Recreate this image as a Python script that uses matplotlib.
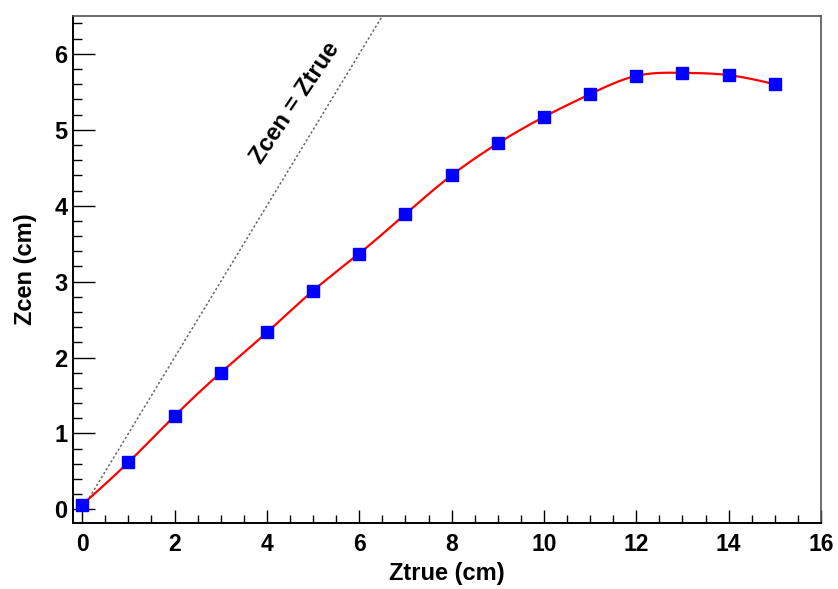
import numpy as np
import matplotlib
matplotlib.use('Agg')
import matplotlib.pyplot as plt
from matplotlib.ticker import MultipleLocator

plt.rcParams['font.family'] = ['Liberation Sans', 'DejaVu Sans']
plt.rcParams['font.weight'] = 'bold'

# measured centroid position vs true depth
z_true = [0, 1, 2, 3, 4, 5, 6, 7, 8, 9, 10, 11, 12, 13, 14, 15]
z_cen = [0.06, 0.62, 1.23, 1.80, 2.33, 2.88, 3.37, 3.89, 4.40, 4.82,
         5.17, 5.47, 5.71, 5.75, 5.72, 5.60]


def natural_spline(x, y, n=400):
    x = np.asarray(x, float)
    y = np.asarray(y, float)
    k = len(x)
    h = np.diff(x)
    A = np.zeros((k, k))
    b = np.zeros(k)
    A[0, 0] = 1
    A[-1, -1] = 1
    for i in range(1, k - 1):
        A[i, i - 1] = h[i - 1]
        A[i, i] = 2 * (h[i - 1] + h[i])
        A[i, i + 1] = h[i]
        b[i] = 6 * ((y[i + 1] - y[i]) / h[i] - (y[i] - y[i - 1]) / h[i - 1])
    M = np.linalg.solve(A, b)
    xs = np.linspace(x[0], x[-1], n)
    idx = np.clip(np.searchsorted(x, xs) - 1, 0, k - 2)
    x0, x1 = x[idx], x[idx + 1]
    hh = x1 - x0
    t0, t1 = x1 - xs, xs - x0
    ys = (M[idx] * t0**3 + M[idx + 1] * t1**3) / (6 * hh) \
        + (y[idx] / hh - M[idx] * hh / 6) * t0 \
        + (y[idx + 1] / hh - M[idx + 1] * hh / 6) * t1
    return xs, ys


fig = plt.figure(figsize=(8.38, 5.89), dpi=100)
ax = fig.add_axes([0.0871, 0.112, 0.8926, 0.861])

# Zcen = Ztrue reference
ax.plot([0, 6.6], [0, 6.6], color='#666666', lw=1.1, linestyle=(0, (1.5, 1.5)))

xs, ys = natural_spline(z_true, z_cen)
ax.plot(xs, ys, color='#ff0000', lw=1.6, zorder=3)
ax.plot(z_true, z_cen, linestyle='none', marker='s', markersize=8.5,
        color='#0000ff', zorder=4)

ax.text(4.62, 5.35, 'Zcen = Ztrue', rotation=56, ha='center', va='center',
        fontsize=17, fontweight='bold')

ax.set_xlim(-0.2, 16)
ax.set_ylim(-0.18, 6.5)

ax.xaxis.set_major_locator(MultipleLocator(2))
ax.xaxis.set_minor_locator(MultipleLocator(0.5))
ax.yaxis.set_major_locator(MultipleLocator(1))
ax.yaxis.set_minor_locator(MultipleLocator(0.2))

ax.tick_params(axis='x', which='major', direction='in', length=9.5, width=1,
               labelsize=16.5, pad=7)
ax.tick_params(axis='x', which='minor', direction='in', length=6, width=1)
ax.tick_params(axis='y', which='major', direction='in', length=16, width=1,
               labelsize=17, pad=4)
ax.tick_params(axis='y', which='minor', direction='in', length=6.5, width=1)
ax.tick_params(top=False, right=False, which='both')

for side in ['left', 'bottom']:
    ax.spines[side].set_linewidth(1.4)
    ax.spines[side].set_color('black')
for side in ['top', 'right']:
    ax.spines[side].set_linewidth(1.2)
    ax.spines[side].set_color('#555555')

ax.set_xlabel('Ztrue (cm)', fontsize=17, fontweight='bold', va='center')
ax.set_ylabel('Zcen (cm)', fontsize=17, fontweight='bold', va='center')
ax.xaxis.set_label_coords(0.5, -0.0986)
ax.yaxis.set_label_coords(-0.064, 0.5)

fig.savefig('out.png', dpi=100)
